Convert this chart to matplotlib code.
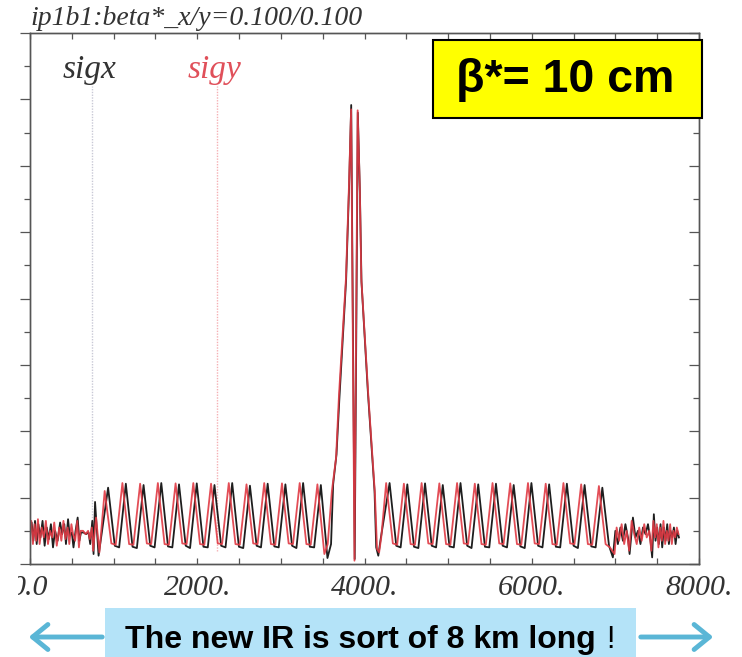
import numpy as np
import matplotlib
matplotlib.use("Agg")
import matplotlib.pyplot as plt
from matplotlib.patches import Rectangle, FancyArrowPatch
from matplotlib.ticker import MultipleLocator

# ---- data (s in m, sigma in plot units) ----
black_left_s = [0, 20, 40, 60, 80, 100, 125, 150, 175, 200, 225, 250, 275, 300, 330, 360, 385, 410, 430, 455,
                475, 500, 520, 545, 570, 590, 610, 640, 670, 700, 720, 745, 760, 778, 820,
                934, 1014, 1066, 1146, 1226, 1278, 1358, 1438, 1490, 1570, 1650, 1702, 1782, 1862, 1914,
                1994, 2074, 2126, 2206, 2286, 2338, 2418, 2498, 2550, 2630, 2710, 2762, 2842, 2922, 2974,
                3054, 3134, 3186, 3266, 3346, 3398, 3478, 3557]
black_left_y = [1.0, 1.25, 0.7, 1.3, 0.6, 1.2, 0.8, 1.3, 0.55, 1.1, 0.75, 1.2, 0.5, 1.0, 0.7, 1.25, 0.9, 1.2, 0.6, 1.35,
                0.85, 0.95, 0.5, 1.0, 1.4, 0.7, 0.95, 0.95, 0.9, 0.95, 0.6, 1.3, 0.3, 1.87, 0.25,
                2.3, 0.55, 0.5, 2.42, 0.52, 0.48, 2.38, 0.55, 0.5, 2.44, 0.53, 0.5, 2.4, 0.55, 0.48,
                2.43, 0.52, 0.5, 2.38, 0.55, 0.5, 2.44, 0.52, 0.48, 2.36, 0.55, 0.5, 2.42, 0.53, 0.5,
                2.4, 0.55, 0.48, 2.44, 0.52, 0.5, 2.38, 0.18]

ir_black_s = [3600, 3625, 3665, 3700, 3780, 3815, 3841, 3883, 3920, 3945, 3964, 4040, 4120, 4140, 4165]
ir_black_y = [0.6, 2.4, 3.3, 5.0, 8.55, 11.3, 13.83, 0.15, 13.6, 11.2, 8.5, 5.2, 2.2, 0.5, 0.25]

black_right_s = [4190, 4300, 4380, 4432, 4512, 4592, 4644, 4724, 4804, 4856, 4936, 5016, 5068, 5148, 5228, 5280,
                 5360, 5440, 5492, 5572, 5652, 5704, 5784, 5864, 5916, 5996, 6076, 6128, 6208, 6288, 6340,
                 6420, 6500, 6552, 6632, 6712, 6764, 6844, 6924, 6970,
                 7000, 7030, 7060, 7090, 7120, 7150, 7170, 7210, 7240, 7270, 7300, 7330, 7360, 7390, 7420,
                 7440, 7460, 7480, 7500, 7520, 7540, 7560, 7580, 7600, 7620, 7640, 7660, 7680, 7700, 7720,
                 7740, 7760]
black_right_y = [0.7, 2.44, 0.55, 0.5, 2.4, 0.52, 0.48, 2.43, 0.55, 0.5, 2.38, 0.53, 0.5, 2.44, 0.55, 0.48,
                 2.4, 0.52, 0.5, 2.42, 0.55, 0.5, 2.38, 0.53, 0.48, 2.44, 0.55, 0.5, 2.4, 0.52, 0.5,
                 2.42, 0.55, 0.48, 2.38, 0.53, 0.5, 2.3, 0.55, 0.2,
                 1.0, 0.6, 1.1, 0.7, 1.2, 0.8, 0.3, 1.4, 0.8, 1.0, 0.6, 1.1, 0.9, 1.2, 0.7,
                 0.2, 1.5, 0.7, 1.1, 0.6, 1.2, 0.5, 1.1, 0.7, 1.2, 0.6, 1.0, 0.8, 1.1, 0.6,
                 1.0, 0.8]

red_left_s = [0, 15, 35, 55, 75, 95, 115, 140, 165, 190, 215, 240, 265, 290, 320, 350, 375, 400, 425, 450,
              470, 495, 515, 540, 565, 585, 605, 635, 665, 695, 715, 740, 755, 790, 830,
              893, 973, 1025, 1105, 1185, 1237, 1317, 1397, 1449, 1529, 1609, 1661, 1741, 1821, 1873,
              1953, 2033, 2085, 2165, 2245, 2297, 2377, 2457, 2509, 2589, 2669, 2721, 2801, 2881, 2933,
              3013, 3093, 3145, 3225, 3305, 3357, 3437, 3520]
red_left_y = [0.9, 1.3, 0.6, 1.2, 0.7, 1.35, 0.6, 1.1, 0.8, 1.3, 0.6, 1.0, 0.8, 1.25, 0.55, 1.1, 0.7, 1.3, 0.75, 1.1,
              0.6, 1.2, 0.9, 0.7, 1.3, 0.5, 1.0, 1.0, 0.9, 1.0, 0.75, 1.1, 0.4, 1.4, 0.35,
              2.2, 0.62, 0.58, 2.44, 0.6, 0.58, 2.42, 0.62, 0.6, 2.44, 0.6, 0.58, 2.43, 0.62, 0.6,
              2.44, 0.6, 0.58, 2.42, 0.62, 0.6, 2.44, 0.6, 0.58, 2.4, 0.62, 0.6, 2.44, 0.6, 0.58,
              2.43, 0.62, 0.6, 2.44, 0.6, 0.58, 2.4, 0.3]

ir_red_s = [3560, 3610, 3660, 3695, 3778, 3813, 3840, 3880, 3918, 3944, 3962, 4045, 4125, 4150, 4175]
ir_red_y = [0.6, 2.2, 3.2, 5.1, 8.6, 11.3, 13.7, 0.1, 13.67, 11.3, 8.6, 5.1, 2.1, 0.45, 0.35]

red_right_s = [4200, 4259, 4339, 4391, 4471, 4551, 4603, 4683, 4763, 4815, 4895, 4975, 5027, 5107, 5187, 5239,
               5319, 5399, 5451, 5531, 5611, 5663, 5743, 5823, 5875, 5955, 6035, 6087, 6167, 6247, 6299,
               6379, 6459, 6511, 6591, 6671, 6723, 6803, 6883, 6935,
               6990, 7015, 7045, 7075, 7105, 7135, 7165, 7195, 7225, 7255, 7285, 7315, 7345, 7375, 7405,
               7430, 7455, 7475, 7495, 7515, 7535, 7555, 7575, 7595, 7615, 7635, 7655, 7675, 7695, 7715,
               7735, 7755]
red_right_y = [0.8, 2.44, 0.62, 0.58, 2.42, 0.6, 0.58, 2.44, 0.62, 0.6, 2.43, 0.6, 0.58, 2.44, 0.62, 0.6,
               2.42, 0.6, 0.58, 2.44, 0.62, 0.6, 2.43, 0.6, 0.58, 2.44, 0.62, 0.6, 2.42, 0.6, 0.58,
               2.44, 0.62, 0.6, 2.4, 0.6, 0.58, 2.35, 0.6, 0.5,
               0.3, 1.1, 0.7, 1.2, 0.6, 1.0, 0.4, 1.3, 0.9, 0.6, 1.1, 0.7, 1.2, 0.8, 1.0,
               0.4, 1.3, 0.8, 1.2, 0.5, 1.1, 0.7, 1.3, 0.6, 1.0, 0.7, 1.2, 0.6, 1.0, 0.8,
               1.1, 0.9]

x_ticks = [0, 2000, 4000, 6000, 8000]
x_ticklabels = ["0.0", "2000.", "4000.", "6000.", "8000."]
marker_sigx = 742
marker_sigy = 2240

s_black = np.concatenate([black_left_s, ir_black_s, black_right_s])
y_black = np.concatenate([black_left_y, ir_black_y, black_right_y])
s_red = np.concatenate([red_left_s, ir_red_s, red_right_s])
y_red = np.concatenate([red_left_y, ir_red_y, red_right_y])

W, H = 742, 657
fig = plt.figure(figsize=(W / 100, H / 100), dpi=100)
ax = fig.add_axes([30 / W, 1 - 564 / H, 669 / W, 531 / H])

serif = "Liberation Serif"
ax.plot([marker_sigx, marker_sigx], [0.4, 14.4], color="#c9c9d6", lw=1.0, ls=(0, (1, 1)))
ax.plot([marker_sigy, marker_sigy], [0.4, 14.4], color="#f5b0b4", lw=1.0, ls=(0, (1, 1)))
ax.plot(s_black, y_black, color="#1e1e1e", lw=1.3)
ax.plot(s_red, y_red, color="#e03a44", lw=1.3, alpha=0.9)

ax.set_xlim(0, 8000)
ax.set_ylim(0, 16)
ax.set_xticks(x_ticks)
ax.set_xticklabels(x_ticklabels, fontsize=21.5, family=serif, style="italic", color="#333333")
ax.xaxis.set_minor_locator(MultipleLocator(500))
ax.tick_params(axis="x", which="both", direction="in", top=True, bottom=True, pad=8,
               length=4, width=0.9, color="#555555")
ax.yaxis.set_major_locator(MultipleLocator(2))
ax.yaxis.set_minor_locator(MultipleLocator(1))
ax.tick_params(axis="y", which="major", direction="out", length=7, width=0.9, color="#555555",
               labelleft=False)
ax.tick_params(axis="y", which="minor", direction="out", length=4, width=0.9, color="#555555")

# right side ticks point inward
ax2 = ax.twinx()
ax2.set_ylim(0, 16)
ax2.yaxis.set_major_locator(MultipleLocator(2))
ax2.yaxis.set_minor_locator(MultipleLocator(1))
ax2.tick_params(axis="y", which="major", direction="in", length=7, width=0.9, color="#555555",
                labelright=False)
ax2.tick_params(axis="y", which="minor", direction="in", length=4, width=0.9, color="#555555")
for a in (ax, ax2):
    for sp in a.spines.values():
        sp.set_color("#555555")
        sp.set_linewidth(1.0)

ax.text(0.048, 0.96, "sigx", transform=ax.transAxes, fontsize=24, family=serif,
        style="italic", color="#333333", va="top")
ax.text(0.235, 0.96, "sigy", transform=ax.transAxes, fontsize=24, family=serif,
        style="italic", color="#e0505a", va="top")

fig.text(30 / W, 1 - 25 / H, "ip1b1:beta*_x/y=0.100/0.100", fontsize=20, family=serif,
         style="italic", color="#333333", va="baseline")

# white strip where the original picture was cut
fig.add_artist(Rectangle((0, 1 - 600 / H), 18 / W, 570 / H, transform=fig.transFigure,
                         facecolor="white", edgecolor="none", zorder=10))

# yellow label
fig.add_artist(Rectangle((433 / W, 1 - 118 / H), 269 / W, 78 / H, transform=fig.transFigure,
                         facecolor="#ffff00", edgecolor="black", lw=1.5, zorder=11))
fig.text(565 / W, 1 - 80 / H, "β*= 10 cm", fontsize=33.5, family="Liberation Sans",
         weight="bold", ha="center", va="center", zorder=12)

# bottom banner with arrows
fig.add_artist(Rectangle((105 / W, 0), 531 / W, 49 / H, transform=fig.transFigure,
                         facecolor="#b4e3f8", edgecolor="none", zorder=11))
fig.text(125 / W, 1 - 648 / H, "The new IR is sort of 8 km long", fontsize=23,
         family="Liberation Sans", weight="bold", va="baseline", zorder=12)
fig.text(610 / W, 1 - 648 / H, "!", fontsize=22, family="Liberation Sans",
         ha="center", va="baseline", zorder=12)
arrow_kw = dict(arrowstyle="->,head_length=0.55,head_width=0.45", mutation_scale=20,
                lw=3.5, color="#5ab6d6", transform=fig.transFigure, zorder=12)
fig.add_artist(FancyArrowPatch((105 / W, 1 - 637 / H), (26 / W, 1 - 637 / H), **arrow_kw))
fig.add_artist(FancyArrowPatch((638 / W, 1 - 637 / H), (716 / W, 1 - 637 / H), **arrow_kw))

fig.savefig("out.png", dpi=100)
